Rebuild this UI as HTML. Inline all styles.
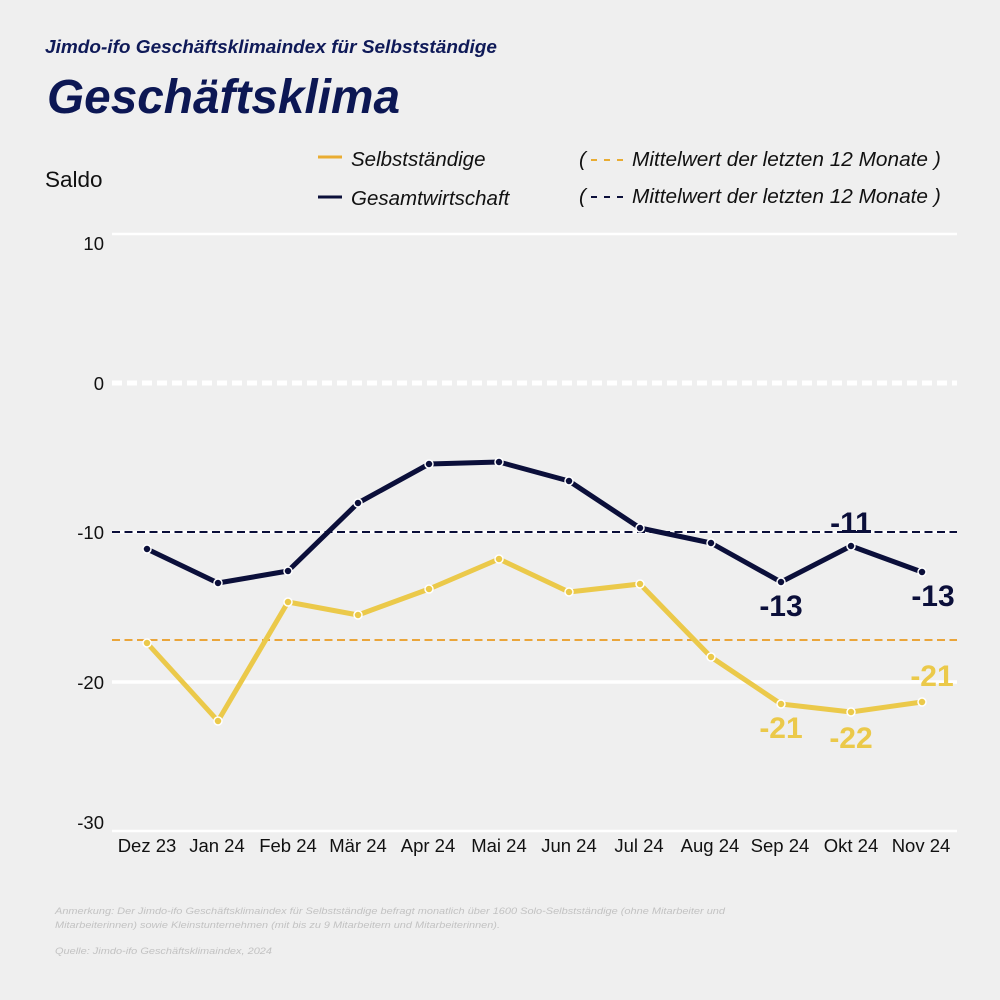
<!DOCTYPE html>
<html>
<head>
<meta charset="utf-8">
<style>
  html, body { margin:0; padding:0; background:#efefef; }
  svg { display:block; }
  text { font-family: "Liberation Sans", Arial, sans-serif; }
</style>
</head>
<body>
<svg width="1000" height="1000" viewBox="0 0 1000 1000" xmlns="http://www.w3.org/2000/svg">
  <rect x="0" y="0" width="1000" height="1000" fill="#efefef"/>

  <!-- Titles -->
  <text x="45" y="53" font-size="18.8" font-weight="bold" font-style="italic" fill="#0f1a58" textLength="452" lengthAdjust="spacingAndGlyphs">Jimdo-ifo Geschäftsklimaindex für Selbstständige</text>
  <text x="47" y="113" font-size="48" font-weight="bold" font-style="italic" fill="#0c1754" textLength="353" lengthAdjust="spacingAndGlyphs">Geschäftsklima</text>

  <!-- Saldo -->
  <text x="45" y="187" font-size="22.5" fill="#111">Saldo</text>

  <!-- Legend -->
  <line x1="318" y1="157" x2="342" y2="157" stroke="#e9ac32" stroke-width="3"/>
  <text x="351" y="166" font-size="20.5" font-style="italic" fill="#111">Selbstständige</text>
  <line x1="318" y1="197" x2="342" y2="197" stroke="#0b0f3a" stroke-width="3"/>
  <text x="351" y="205" font-size="20.5" font-style="italic" fill="#111">Gesamtwirtschaft</text>

  <text x="579" y="166" font-size="20.5" font-style="italic" fill="#111">(</text>
  <line x1="591" y1="160" x2="624" y2="160" stroke="#e9ac32" stroke-width="2" stroke-dasharray="6,7"/>
  <text x="632" y="166" font-size="20.5" font-style="italic" fill="#111" textLength="296" lengthAdjust="spacingAndGlyphs">Mittelwert der letzten 12 Monate</text>
  <text x="934" y="166" font-size="20.5" font-style="italic" fill="#111">)</text>

  <text x="579" y="203" font-size="20.5" font-style="italic" fill="#111">(</text>
  <line x1="591" y1="197" x2="624" y2="197" stroke="#0b0f3a" stroke-width="2" stroke-dasharray="6,7"/>
  <text x="632" y="203" font-size="20.5" font-style="italic" fill="#111" textLength="296" lengthAdjust="spacingAndGlyphs">Mittelwert der letzten 12 Monate</text>
  <text x="934" y="203" font-size="20.5" font-style="italic" fill="#111">)</text>

  <!-- Gridlines -->
  <line x1="112" y1="234" x2="957" y2="234" stroke="#ffffff" stroke-width="2.5"/>
  <line x1="112" y1="383" x2="957" y2="383" stroke="#ffffff" stroke-width="5" stroke-dasharray="10,5"/>
  <line x1="112" y1="532" x2="957" y2="532" stroke="#ffffff" stroke-width="3"/>
  <line x1="112" y1="682" x2="957" y2="682" stroke="#ffffff" stroke-width="3.5"/>
  <line x1="112" y1="831" x2="957" y2="831" stroke="#ffffff" stroke-width="2.5"/>

  <!-- Y tick labels -->
  <g font-size="18.5" fill="#111" text-anchor="end">
    <text x="104" y="250">10</text>
    <text x="104" y="390">0</text>
    <text x="104" y="539">-10</text>
    <text x="104" y="689">-20</text>
    <text x="104" y="829">-30</text>
  </g>

  <!-- X tick labels -->
  <g font-size="18.5" fill="#111" text-anchor="middle">
    <text x="147" y="852">Dez 23</text>
    <text x="217" y="852">Jan 24</text>
    <text x="288" y="852">Feb 24</text>
    <text x="358" y="852">Mär 24</text>
    <text x="428" y="852">Apr 24</text>
    <text x="499" y="852">Mai 24</text>
    <text x="569" y="852">Jun 24</text>
    <text x="639" y="852">Jul 24</text>
    <text x="710" y="852">Aug 24</text>
    <text x="780" y="852">Sep 24</text>
    <text x="851" y="852">Okt 24</text>
    <text x="921" y="852">Nov 24</text>
  </g>

  <!-- Mean lines -->
  <line x1="112" y1="532" x2="957" y2="532" stroke="#0b0f3a" stroke-width="2" stroke-dasharray="8,4.5"/>
  <line x1="112" y1="640" x2="957" y2="640" stroke="#eaa53a" stroke-width="2" stroke-dasharray="8,4.5"/>

  <!-- Selbstständige series -->
  <polyline fill="none" stroke="#ebc94a" stroke-width="5" stroke-linejoin="round"
    points="147,643 218,721 288,602 358,615 429,589 499,559 569,592 640,584 711,657 781,704 851,712 922,702"/>
  <g fill="#ebc94a" stroke="#ffffff" stroke-width="1.5">
    <circle cx="147" cy="643" r="4"/>
    <circle cx="218" cy="721" r="4"/>
    <circle cx="288" cy="602" r="4"/>
    <circle cx="358" cy="615" r="4"/>
    <circle cx="429" cy="589" r="4"/>
    <circle cx="499" cy="559" r="4"/>
    <circle cx="569" cy="592" r="4"/>
    <circle cx="640" cy="584" r="4"/>
    <circle cx="711" cy="657" r="4"/>
    <circle cx="781" cy="704" r="4"/>
    <circle cx="851" cy="712" r="4"/>
    <circle cx="922" cy="702" r="4"/>
  </g>

  <!-- Gesamtwirtschaft series -->
  <polyline fill="none" stroke="#0b0f3a" stroke-width="5" stroke-linejoin="round"
    points="147,549 218,583 288,571 358,503 429,464 499,462 569,481 640,528 711,543 781,582 851,546 922,572"/>
  <g fill="#0b0f3a" stroke="#ffffff" stroke-width="1.5">
    <circle cx="147" cy="549" r="4"/>
    <circle cx="218" cy="583" r="4"/>
    <circle cx="288" cy="571" r="4"/>
    <circle cx="358" cy="503" r="4"/>
    <circle cx="429" cy="464" r="4"/>
    <circle cx="499" cy="462" r="4"/>
    <circle cx="569" cy="481" r="4"/>
    <circle cx="640" cy="528" r="4"/>
    <circle cx="711" cy="543" r="4"/>
    <circle cx="781" cy="582" r="4"/>
    <circle cx="851" cy="546" r="4"/>
    <circle cx="922" cy="572" r="4"/>
  </g>

  <!-- Value labels -->
  <g font-size="30" font-weight="bold" text-anchor="middle">
    <text x="781" y="616" fill="#0b0f3a">-13</text>
    <text x="851" y="533" fill="#0b0f3a">-11</text>
    <text x="933" y="606" fill="#0b0f3a">-13</text>
    <text x="781" y="738" fill="#ebc94a">-21</text>
    <text x="851" y="748" fill="#ebc94a">-22</text>
    <text x="932" y="686" fill="#ebc94a">-21</text>
  </g>

  <!-- Footnotes -->
  <g font-size="9.6" font-style="italic" fill="#c2c2c2">
    <text x="55" y="914" textLength="670" lengthAdjust="spacingAndGlyphs">Anmerkung: Der Jimdo-ifo Geschäftsklimaindex für Selbstständige befragt monatlich über 1600 Solo-Selbstständige (ohne Mitarbeiter und</text>
    <text x="55" y="928" textLength="445" lengthAdjust="spacingAndGlyphs">Mitarbeiterinnen) sowie Kleinstunternehmen (mit bis zu 9 Mitarbeitern und Mitarbeiterinnen).</text>
    <text x="55" y="954" textLength="217" lengthAdjust="spacingAndGlyphs">Quelle: Jimdo-ifo Geschäftsklimaindex, 2024</text>
  </g>
</svg>
</body>
</html>
